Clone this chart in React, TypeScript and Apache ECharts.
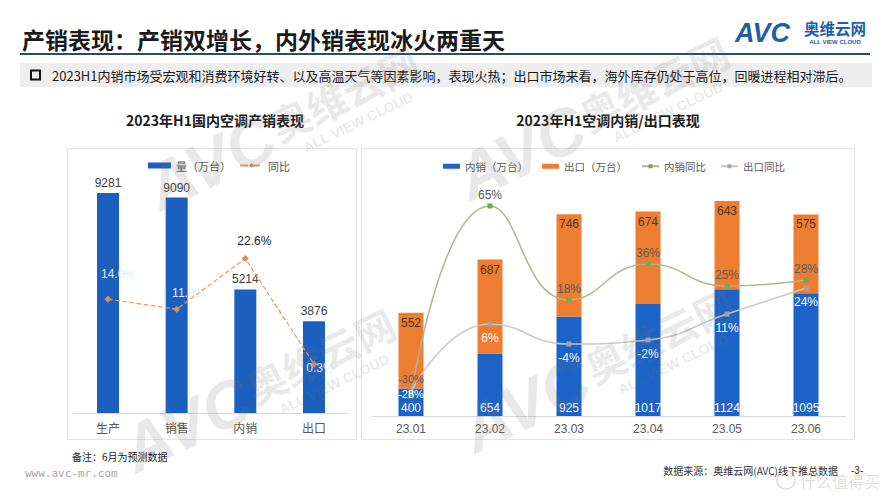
import React, { useEffect, useRef } from "react";
import * as echarts from "echarts";

const FONT = '"Liberation Sans", "Noto Sans CJK SC", sans-serif';
const CJK = '"Noto Sans CJK SC", "Liberation Sans", sans-serif';

// 2023 H1 domestic production / sales
const leftCategories = ["生产", "销售", "内销", "出口"];
const leftVolume = [9281, 9090, 5214, 3876];
const leftYoY = [14.0, 11.9, 22.6, 0.3];

// 2023 H1 monthly domestic sales / exports
const months = ["23.01", "23.02", "23.03", "23.04", "23.05", "23.06"];
const domesticVolume = [400, 654, 925, 1017, 1124, 1095];
const exportVolume = [552, 687, 746, 674, 643, 575];
const domesticYoY = [-30, 65, 18, 36, 25, 28];
const exportYoY = [-28, 6, -4, -2, 11, 24];

// label placement for the left YoY line (offset from the point, colour)
const leftYoYLabelOffsets = [[10, -11], [12, -2], [9, -3], [6, 18]];
const leftYoYLabelColors = ["#e3eeff", "#e3eeff", "#262626", "#e3eeff"];

const WM = "rgba(120,120,120,0.17)";

function watermark(cx: number, cy: number) {
  const base = { z: 100, silent: true };
  return {
    type: "group",
    x: cx,
    y: cy,
    rotation: 0.45,
    silent: true,
    z: 100,
    children: [
      {
        type: "text", x: -150, y: 2, ...base,
        style: { text: "AVC", fontSize: 66, fontWeight: "bold", fontStyle: "italic", fill: WM,
          textAlign: "center", align: "center", textVerticalAlign: "middle", verticalAlign: "middle", fontFamily: FONT },
      },
      {
        type: "text", x: 0, y: -2, ...base,
        style: { text: "奥维云网", fontSize: 40, fontWeight: "bold", fill: WM,
          textAlign: "center", align: "center", textVerticalAlign: "middle", verticalAlign: "middle", fontFamily: CJK },
      },
      {
        type: "text", x: 0, y: 30, ...base,
        style: { text: "ALL VIEW CLOUD", fontSize: 14, fontWeight: "bold", fill: WM,
          textAlign: "center", align: "center", textVerticalAlign: "middle", verticalAlign: "middle", fontFamily: FONT },
      },
    ],
  };
}

function txt(x: number, y: number, text: string, style: any, extra: any = {}) {
  return {
    type: "text",
    x,
    y,
    silent: true,
    ...extra,
    style: {
      text,
      fontFamily: CJK,
      textVerticalAlign: "middle",
      verticalAlign: "middle",
      ...style,
    },
  };
}

export default function App() {
  const ref = useRef<HTMLDivElement>(null);

  useEffect(() => {
    if (!ref.current) return;
    const chart = echarts.init(ref.current, undefined, { renderer: "svg" });

    const axisLabel = { color: "#595959", fontSize: 12, fontFamily: CJK };

    const option: any = {
      animation: false,
      backgroundColor: "#ffffff",
      textStyle: { fontFamily: FONT },
      legend: [
        {
          data: [{ name: "量（万台）", icon: "rect" }, { name: "同比" }],
          left: 143,
          top: 155,
          itemWidth: 23,
          itemHeight: 6,
          itemGap: 8,
          textStyle: { fontSize: 11, color: "#595959", fontFamily: CJK },
        },
        {
          data: [
            { name: "内销（万台）", icon: "rect" },
            { name: "出口（万台）", icon: "rect" },
            { name: "内销同比" },
            { name: "出口同比" },
          ],
          left: 438,
          top: 156,
          itemWidth: 17,
          itemHeight: 5,
          itemGap: 14,
          textStyle: { fontSize: 10.5, color: "#595959", fontFamily: CJK },
        },
      ],
      grid: [
        { left: 73.7, width: 274.6, top: 176, height: 237 },
        { left: 371.5, width: 474, top: 176, height: 240 },
      ],
      xAxis: [
        {
          gridIndex: 0,
          type: "category",
          data: leftCategories,
          axisLine: { onZero: false, lineStyle: { color: "#d9d9d9" } },
          axisTick: { show: false },
          axisLabel: { ...axisLabel, margin: 8 },
        },
        {
          gridIndex: 1,
          type: "category",
          data: months,
          axisLine: { onZero: false, lineStyle: { color: "#d9d9d9" } },
          axisTick: { show: false },
          axisLabel: { ...axisLabel, fontFamily: FONT, margin: 7 },
        },
      ],
      yAxis: [
        { gridIndex: 0, type: "value", min: 0, max: 10000, show: false, splitLine: { show: false } },
        { gridIndex: 0, type: "value", min: -10, max: 40, show: false, splitLine: { show: false } },
        { gridIndex: 1, type: "value", min: 200, max: 1950, show: false, splitLine: { show: false } },
        { gridIndex: 1, type: "value", min: -40, max: 80, show: false, splitLine: { show: false } },
      ],
      series: [
        {
          name: "量（万台）",
          type: "bar",
          xAxisIndex: 0,
          yAxisIndex: 0,
          barWidth: 22,
          data: leftVolume,
          itemStyle: { color: "#1b5fbf" },
          label: { show: true, position: "top", distance: 4, fontSize: 12, color: "#404040" },
        },
        {
          name: "同比",
          type: "line",
          xAxisIndex: 0,
          yAxisIndex: 1,
          data: leftYoY.map((v, i) => ({
            value: v,
            label: { offset: leftYoYLabelOffsets[i], color: leftYoYLabelColors[i] },
          })),
          symbol: "diamond",
          symbolSize: 7,
          itemStyle: { color: "#d0925e" },
          lineStyle: { type: "dashed", color: "#e89a58", width: 1.2 },
          label: {
            show: true,
            position: "top",
            fontSize: 12,
            formatter: (p: any) => Number(p.value).toFixed(1) + "%",
          },
        },
        {
          name: "内销（万台）",
          type: "bar",
          stack: "month",
          xAxisIndex: 1,
          yAxisIndex: 2,
          barWidth: 25,
          data: domesticVolume,
          itemStyle: { color: "#1b63c6" },
          label: { show: true, position: "insideBottom", distance: 2, fontSize: 12, color: "#ffffff" },
        },
        {
          name: "出口（万台）",
          type: "bar",
          stack: "month",
          xAxisIndex: 1,
          yAxisIndex: 2,
          barWidth: 25,
          data: exportVolume,
          itemStyle: { color: "#ed7d31" },
          label: { show: true, position: "insideTop", distance: 4, fontSize: 12, color: "#4d3322" },
        },
        {
          name: "内销同比",
          type: "line",
          xAxisIndex: 1,
          yAxisIndex: 3,
          smooth: true,
          data: domesticYoY.map((v, i) =>
            i === 0 ? { value: v, label: { offset: [0, -6], fontSize: 11 } } : v
          ),
          symbol: "rect",
          symbolSize: 5,
          itemStyle: { color: "#70ad47" },
          lineStyle: { color: "#a9b892", width: 1.5 },
          label: { show: true, position: "top", distance: 3, fontSize: 12, color: "#595959", formatter: "{c}%" },
        },
        {
          name: "出口同比",
          type: "line",
          xAxisIndex: 1,
          yAxisIndex: 3,
          smooth: true,
          data: exportYoY.map((v, i) =>
            i === 0 ? { value: v, label: { offset: [0, -11], fontSize: 11 } } : v
          ),
          symbol: "rect",
          symbolSize: 5,
          itemStyle: { color: "#a6a6a6" },
          lineStyle: { color: "#c9c9c9", width: 1.5 },
          label: { show: true, position: "bottom", distance: 5, fontSize: 12, color: "#ffffff", formatter: "{c}%" },
        },
      ],
      graphic: [
        // header
        txt(22, 39, "产销表现：产销双增长，内外销表现冰火两重天", { fontSize: 23, fontWeight: "bold", fill: "#1a1a1a" }),
        { type: "line", silent: true, shape: { x1: 20, y1: 54, x2: 870, y2: 54 }, style: { stroke: "#2c4a6b", lineWidth: 2 } },
        { type: "rect", silent: true, shape: { x: 20, y: 63, width: 852, height: 24 }, style: { fill: "#eeeeee" } },
        { type: "rect", silent: true, shape: { x: 31, y: 70.5, width: 9, height: 9 }, style: { fill: "none", stroke: "#111111", lineWidth: 2 } },
        txt(52, 75, "2023H1内销市场受宏观和消费环境好转、以及高温天气等因素影响，表现火热；出口市场来看，海外库存仍处于高位，回暖进程相对滞后。", { fontSize: 13, fill: "#1a1a1a" }),
        // logo
        txt(735, 33, "AVC", { fontSize: 27, fontWeight: "bold", fontStyle: "italic", fill: "#1f5fa8", fontFamily: FONT }),
        txt(804, 28, "奥维云网", { fontSize: 15.5, fontWeight: "bold", fill: "#1f5fa8" }),
        txt(835, 42, "ALL VIEW CLOUD", { fontSize: 6, fontWeight: "bold", fill: "#1f5fa8", fontFamily: FONT, textAlign: "center", align: "center" }),
        // panel titles and frames
        txt(215, 120, "2023年H1国内空调产销表现", { fontSize: 14, fontWeight: "bold", fill: "#1a1a1a", textAlign: "center", align: "center" }),
        txt(608, 120, "2023年H1空调内销/出口表现", { fontSize: 14, fontWeight: "bold", fill: "#1a1a1a", textAlign: "center", align: "center" }),
        { type: "rect", silent: true, shape: { x: 67.5, y: 148.5, width: 289, height: 291 }, style: { fill: "none", stroke: "#e4e4e4", lineWidth: 1 } },
        { type: "rect", silent: true, shape: { x: 361.5, y: 148.5, width: 493, height: 291 }, style: { fill: "none", stroke: "#e4e4e4", lineWidth: 1 } },
        // footer
        txt(72, 456, "备注：6月为预测数据", { fontSize: 10, fill: "#222222" }),
        txt(25, 473, "www.avc-mr.com", { fontSize: 11, fill: "#a8a8a8", fontFamily: '"DejaVu Sans Mono", monospace' }),
        txt(838, 470, "数据来源：奥维云网(AVC)线下推总数据", { fontSize: 10, fill: "#333333", textAlign: "right", align: "right" }),
        txt(851, 470, "-3-", { fontSize: 10, fill: "#333333", fontFamily: FONT }),
        { type: "circle", silent: true, z: 100, shape: { cx: 786, cy: 480, r: 9 }, style: { fill: "none", stroke: "rgba(0,0,0,0.14)", lineWidth: 1.5 } },
        txt(800, 481, "什么值得买", { fontSize: 16, fill: "rgba(0,0,0,0.14)" }, { z: 100 }),
        // watermarks
        watermark(345, 95),
        watermark(655, 85),
        watermark(321, 357),
        watermark(660, 337),
      ],
    };

    chart.setOption(option);
    return () => chart.dispose();
  }, []);

  return (
    <div
      ref={ref}
      style={{ position: "absolute", left: 0, top: 0, width: 889, height: 500, background: "#ffffff" }}
    />
  );
}
